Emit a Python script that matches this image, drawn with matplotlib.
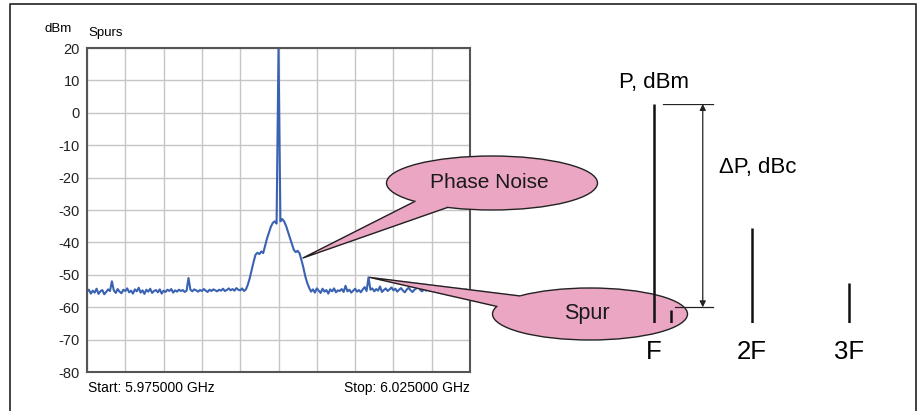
import numpy as np
import matplotlib
matplotlib.use("Agg")
import matplotlib.pyplot as plt
from matplotlib.patches import Ellipse, Polygon

plt.rcParams['font.family'] = ['Liberation Sans', 'DejaVu Sans']

# スペクトラムアナライザの掃引設定 (MHz)
f_start = 5975.0
f_stop = 6025.0

# 測定トレース (dBm) : 0.25 MHz 毎の読み取り値
level_dbm = [
    # 左側ノイズフロア
    -55.2, -54.6, -55.8, -54.9, -55.5, -54.3, -55.9, -55.1, -54.7, -56.0,
    -55.3, -54.5, -55.0, -52.0, -54.8, -55.6, -54.4, -55.2, -55.7, -54.6,
    -55.0, -54.2, -55.4, -54.9, -55.8, -54.5, -55.1, -54.0, -55.5, -54.8,
    -55.9, -54.6, -55.2, -54.3, -55.6, -55.0, -54.7, -55.4, -54.5, -55.8,
    -54.9, -55.3, -54.6, -55.0, -54.4, -55.5, -54.8, -55.2, -54.6, -55.0,
    -54.7, -55.3, -54.9, -51.0, -54.6, -55.1, -54.5, -54.8, -55.2, -54.7,
    -55.0, -54.4, -54.9, -55.3, -54.6, -55.0, -54.5, -54.8, -55.1, -54.6,
    -54.9, -54.3, -55.0, -54.7, -54.2, -54.8, -54.4, -54.9, -54.1, -54.6,
    # 位相雑音とキャリア
    -54.8, -54.2, -55.0, -54.5, -53.0, -51.0, -48.5, -46.0, -43.8, -43.2,
    -43.6, -42.8, -43.3, -41.0, -38.8, -37.0, -35.2, -34.0, -33.5, -34.2,
    20.0,
    -33.5, -32.8, -33.6, -35.0, -36.8, -38.6, -40.5, -42.3, -43.0, -42.6,
    -43.4, -45.5, -47.8, -50.5, -52.5, -54.0, -55.2, -54.5, -55.5, -54.2,
    # 右側ノイズフロア
    -54.9, -55.6, -54.3, -55.2, -54.7, -55.8, -54.5, -55.1, -54.2, -55.4,
    -54.8, -55.0, -54.4, -55.3, -53.4, -55.1, -54.6, -55.5, -54.9, -54.3,
    -55.2, -54.7, -55.4, -54.5, -53.8, -55.0, -50.8, -54.6, -54.2, -55.1,
    -54.4, -54.9, -53.6, -55.3, -54.7, -54.2, -55.0, -54.5, -53.9, -54.8,
    -54.3, -55.2, -54.6, -54.1, -54.9, -55.4, -54.5, -54.0, -54.8, -55.3,
    -54.6, -54.2, -53.5, -54.7, -55.1, -54.4, -54.9, -54.3, -55.0, -54.6,
    -54.8, -55.2, -54.5, -54.1, -54.9, -55.3, -54.6, -54.2, -55.0, -54.7,
    -54.4, -55.1, -54.6, -54.9, -54.3, -55.0, -54.7, -54.5, -55.2, -54.8,
]
freq_mhz = np.linspace(f_start, f_stop, len(level_dbm))  # 掃引ポイント

y_ticks = [20, 10, 0, -10, -20, -30, -40, -50, -60, -70, -80]

# 吹き出しの指す点 (MHz, dBm)
phase_noise_pt = (6003.2, -44.8)
spur_pt = (6011.9, -50.8)

# 右側の模式図 : 高調波 (次数, dBc)
harmonic_n = [1, 2, 3]
harmonic_db = [0, -34, -49]
harmonic_labels = ['F', '2F', '3F']
spur_n = 1.17
spur_db = -56.5
floor_db = -60

pink = '#eaa6c2'
trace_blue = '#3a62b3'

fig = plt.figure(figsize=(9.22, 4.11), dpi=100)
W, H = 922, 411

def px_axes(left, top, right, bottom):
    return [left / W, 1 - bottom / H, (right - left) / W, (bottom - top) / H]

# スペクトラム
ax = fig.add_axes(px_axes(87, 48, 470, 372))
ax.plot(freq_mhz, level_dbm, color=trace_blue, lw=1.5)
ax.set_xlim(f_start, f_stop)
ax.set_ylim(-80, 20)
ax.set_xticks(np.arange(f_start, f_stop + 1, 5))
ax.set_xticklabels([])
ax.set_yticks(y_ticks)
ax.set_yticklabels([str(t) for t in y_ticks], fontsize=10.5, color='#222222')
ax.tick_params(length=0, pad=5)
ax.grid(True, color='#c6c6c6', lw=1)
for s in ax.spines.values():
    s.set_color('#555555')
    s.set_linewidth(1.5)
ax.text(-0.111, 1.06, 'dBm', transform=ax.transAxes, fontsize=9.5, ha='left', va='center')
ax.text(0.003, 1.045, 'Spurs', transform=ax.transAxes, fontsize=9.5, ha='left', va='center')
ax.text(0.003, -0.05, 'Start: 5.975000 GHz', transform=ax.transAxes, fontsize=10, ha='left', va='center')
ax.text(1.0, -0.05, 'Stop: 6.025000 GHz', transform=ax.transAxes, fontsize=10, ha='right', va='center')

# ピクセル座標の重ね描き用
ov = fig.add_axes([0, 0, 1, 1], zorder=2)
ov.set_xlim(0, W)
ov.set_ylim(H, 0)
ov.axis('off')

# 外枠
ov.plot([10, 10, 916, 916], [H, 4, 4, H], color='#333333', lw=1.3)

def to_px(x, y):
    disp = ax.transData.transform((x, y))
    return ov.transData.inverted().transform(disp)

def callout(center, w, h, t1, t2, tip, text, fs):
    cx, cy = center
    e = Ellipse(center, w, h, facecolor=pink, edgecolor='#222222', lw=1.0)
    ov.add_patch(e)
    b1 = (cx + w / 2 * np.cos(t1), cy + h / 2 * np.sin(t1))
    b2 = (cx + w / 2 * np.cos(t2), cy + h / 2 * np.sin(t2))
    inner = (cx + 0.8 * (b1[0] + b2[0]) / 2 - 0.8 * cx, cy + 0.8 * (b1[1] + b2[1]) / 2 - 0.8 * cy)
    ov.add_patch(Polygon([tip, b1, inner, b2], closed=True, facecolor=pink, edgecolor=pink, lw=0.8))
    ov.plot([b1[0], tip[0], b2[0]], [b1[1], tip[1], b2[1]], color='#222222', lw=1.0)
    ov.text(cx - 3, cy - 1, text, fontsize=fs, ha='center', va='center', color='#1a1a1a')

callout((492, 183), 211, 54, np.deg2rad(137), np.deg2rad(115),
        to_px(*phase_noise_pt), 'Phase Noise', 15)
callout((590, 314), 195, 52, np.deg2rad(224), np.deg2rad(197),
        to_px(*spur_pt), 'Spur', 15.5)

# 高調波の模式図
hx = fig.add_axes(px_axes(605.25, 104, 897.75, 323), zorder=3)
hx.set_xlim(0.5, 3.5)
hx.set_ylim(floor_db, 0)
hx.axis('off')
hx.vlines(harmonic_n, floor_db, harmonic_db, color='#111111', lw=1.8)
hx.vlines([spur_n], floor_db, [spur_db], color='#111111', lw=1.8)
for n, lab in zip(harmonic_n, harmonic_labels):
    hx.text(n, -68, lab, fontsize=18.5, ha='center', va='center', clip_on=False)
hx.text(harmonic_n[0], 5.8, 'P, dBm', fontsize=16, ha='center', va='center', clip_on=False)
hx.plot([1.09, 1.6], [harmonic_db[0], harmonic_db[0]], color='#222222', lw=0.9)
hx.plot([1.215, 1.6], [spur_db + 0.8, spur_db + 0.8], color='#222222', lw=0.9)
hx.annotate('', xy=(1.5, harmonic_db[0]), xytext=(1.5, spur_db + 0.8),
            arrowprops=dict(arrowstyle='<|-|>', mutation_scale=9, lw=0.9, color='#222222',
                            shrinkA=0, shrinkB=0))
hx.text(1.667, -17.5, '\u0394P, dBc', fontsize=16, ha='left', va='center')

fig.savefig('out.png', dpi=100)
plt.close(fig)
